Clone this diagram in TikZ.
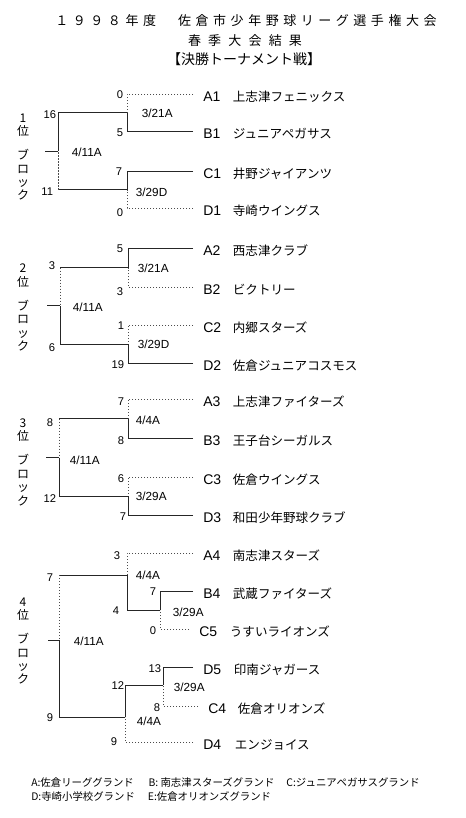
\documentclass[tikz,border=0pt]{standalone}
\usepackage{fontspec}
\setmainfont{Liberation Sans}
\newfontfamily\jp{Noto Sans CJK JP}
\usetikzlibrary{positioning}
% letter spaced title text
\newdimen\lspk
\def\lsp#1{\ifx\relax#1\unkern\else#1\kern\lspk\expandafter\lsp\fi}

\begin{document}
\begin{tikzpicture}[x=0.75pt,y=-0.75pt,
  win/.style={line width=0.65pt,draw=black!85},
  lose/.style={line width=0.65pt,draw=black!70,dash pattern=on 0.9pt off 1.35pt},
  team/.style={anchor=west,inner xsep=7.5pt,inner ysep=0pt,text height=11.2pt,text depth=0pt,font=\fontsize{10.5pt}{12pt}\selectfont},
  tname/.style={anchor=west,inner xsep=0.5pt,inner ysep=0pt,text height=11.2pt,text depth=0pt,font=\jp\fontsize{9.4pt}{11pt}\selectfont},
  score/.style={anchor=east,inner sep=0.5pt,font=\fontsize{8.4pt}{10pt}\selectfont},
  match/.style={anchor=west,inner sep=0.5pt,font=\fontsize{8.8pt}{10pt}\selectfont},
  blk/.style={align=center,inner sep=0pt,font=\jp\fontsize{9pt}{10.1pt}\selectfont},
  ttl/.style={inner sep=0pt,font=\jp\fontsize{9.75pt}{12pt}\selectfont},
  foot/.style={anchor=west,inner sep=0pt,font=\jp\fontsize{7.8pt}{9pt}\selectfont}
]
\useasboundingbox[fill=white] (0,0) rectangle (466,818);

% title
\node[ttl] (title) at (246,21) {\lspk=3.4pt\lsp １９９８年度　佐倉市少年野球リーグ選手権大会\relax};
\node[ttl] (season) at (245,41) {\lspk=5.4pt\lsp 春季大会結果\relax};
\node[ttl,font=\jp\fontsize{10.5pt}{12pt}\selectfont] (final) at (244,59) {【決勝トーナメント戦】};

% teams: code/line y/code x/name x/name
\foreach \tc/\y/\cx/\nx/\nm in {
  A1/94/203/232/上志津フェニックス, B1/131/203/232/ジュニアペガサス,
  C1/171/203/232/井野ジャイアンツ, D1/208/203/232/寺崎ウイングス,
  A2/248/203/232/西志津クラブ, B2/287/203/232/ビクトリー,
  C2/325/203/232/内郷スターズ, D2/363/203/232/佐倉ジュニアコスモス,
  A3/399/203/232/上志津ファイターズ, B3/438/203/232/王子台シーガルス,
  C3/477/203/232/佐倉ウイングス, D3/515/203/232/和田少年野球クラブ,
  A4/553/203/232/南志津スターズ, B4/591/203/232/武蔵ファイターズ,
  C5/629/199/229/うすいライオンズ, D5/667/203/233/印南ジャガース,
  C4/706/208/237/佐倉オリオンズ, D4/742/203/234/エンジョイス}{
  \node[team] (\tc) at (\cx-10,\y) {\tc};
  \node[tname] (n\tc) at (\nx,\y) {\nm};
}

% block 1
\coordinate (j1a) at (127,112.5);
\coordinate (j1b) at (127,189.5);
\coordinate (f1) at (58,151);
\coordinate (e1) at (45,151);
\draw[lose] (A1.west) -| (j1a);
\draw[win] (B1.west) -| (j1a);
\draw[win] (C1.west) -| (j1b);
\draw[lose] (D1.west) -| (j1b);
\draw[win] (j1a) -| (f1);
\draw[win] (j1b) -- (j1b -| f1);
\draw[lose] (j1b -| f1) -- (f1);
\draw[win] (f1) -- (e1);

% block 2
\coordinate (j2a) at (128,267.5);
\coordinate (j2b) at (128,344);
\coordinate (f2) at (60,305.5);
\coordinate (e2) at (47,305.5);
\draw[win] (A2.west) -| (j2a);
\draw[lose] (B2.west) -| (j2a);
\draw[lose] (C2.west) -| (j2b);
\draw[win] (D2.west) -| (j2b);
\draw[win] (j2a) -- (j2a -| f2);
\draw[lose] (j2a -| f2) -- (f2);
\draw[win] (j2b) -| (f2);
\draw[win] (f2) -- (e2);

% block 3
\coordinate (j3a) at (128,418.5);
\coordinate (j3b) at (128,496);
\coordinate (f3) at (59,457.5);
\coordinate (e3) at (46,457.5);
\draw[lose] (A3.west) -| (j3a);
\draw[win] (B3.west) -| (j3a);
\draw[lose] (C3.west) -| (j3b);
\draw[win] (D3.west) -| (j3b);
\draw[win] (j3a) -- (j3a -| f3);
\draw[lose] (j3a -| f3) -- (f3);
\draw[win] (j3b) -| (f3);
\draw[win] (f3) -- (e3);

% block 4
\coordinate (j4a) at (127,575);
\coordinate (j4b) at (160,610);
\coordinate (j4c) at (163,685);
\coordinate (j4d) at (125,717);
\coordinate (f4) at (59,640);
\coordinate (e4) at (48,640);
\draw[lose] (A4.west) -| (j4a);
\draw[win] (B4.west) -| (j4b);
\draw[lose] (C5.west) -| (j4b);
\draw[win] (j4b) -| (j4a);
\draw[win] (D5.west) -| (j4c);
\draw[lose] (C4.west) -| (j4c);
\draw[win] (j4c) -| (j4d);
\draw[lose] (D4.west) -| (j4d);
\draw[win] (j4a) -- (j4a -| f4);
\draw[lose] (j4a -| f4) -- (f4);
\draw[win] (j4d) -| (f4);
\draw[win] (f4) -- (e4);

% scores
\foreach \nm/\px/\py/\v in {
  sA1/124/95/0, sB1/124/133/5, sC1/123/172/7, sD1/124/213/0, s1t/57/115/16, s1b/54/192/11,
  sA2/124/249/5, sB2/124/292/3, sC2/125/326/1, sD2/125/365/19, s2t/56/266/3, s2b/56/348/6,
  sA3/125/402/7, sB3/125/441/8, sC3/125/479/6, sD3/127/517/7, s3t/54/423/8, s3b/57/499/12,
  sA4/121/556/3, s4a/120/611/4, sB4/157/592/7, sC5/157/631/0, s4t/54/578/7,
  sD5/162/669/13, s4c/125/686/12, sC4/161/708/8, sD4/118/742/9, s4b/54/718/9}{
  \node[score] (\nm) at (\px,\py) {\v};
}

% match dates and grounds
\node[match] (m1a) at (141,113) {3/21A};
\node[match] (m1b) at (135,192) {3/29D};
\node[match] (m1f) at (71,152) {4/11A};
\node[match] (m2a) at (137,268) {3/21A};
\node[match] (m2b) at (137,344) {3/29D};
\node[match] (m2f) at (72,307) {4/11A};
\node[match] (m3a) at (135,420) {4/4A};
\node[match] (m3b) at (135,496) {3/29A};
\node[match] (m3f) at (69,460) {4/11A};
\node[match] (m4a) at (135,575) {4/4A};
\node[match] (m4b) at (172,612) {3/29A};
\node[match] (m4f) at (73,641) {4/11A};
\node[match] (m4c) at (173,687) {3/29A};
\node[match] (m4d) at (136,721) {4/4A};

% block labels
\node[blk] (b1) at (23,157) {1\\位\\[7.9pt]ブ\\ロ\\ッ\\ク};
\node[blk] (b2) at (23,307.5) {2\\位\\[7.9pt]ブ\\ロ\\ッ\\ク};
\node[blk] (b3) at (23,462) {3\\位\\[7.9pt]ブ\\ロ\\ッ\\ク};
\node[blk] (b4) at (23,641) {4\\位\\[7.9pt]ブ\\ロ\\ッ\\ク};

% grounds
\node[foot] (gA) at (31,782) {A:佐倉リーググランド\hspace{11pt}B: 南志津スターズグランド\hspace{9pt}C:ジュニアペガサスグランド};
\node[foot] (gD) at (31,797) {D:寺崎小学校グランド\hspace{9.75pt}E:佐倉オリオンズグランド};
\end{tikzpicture}
\end{document}
